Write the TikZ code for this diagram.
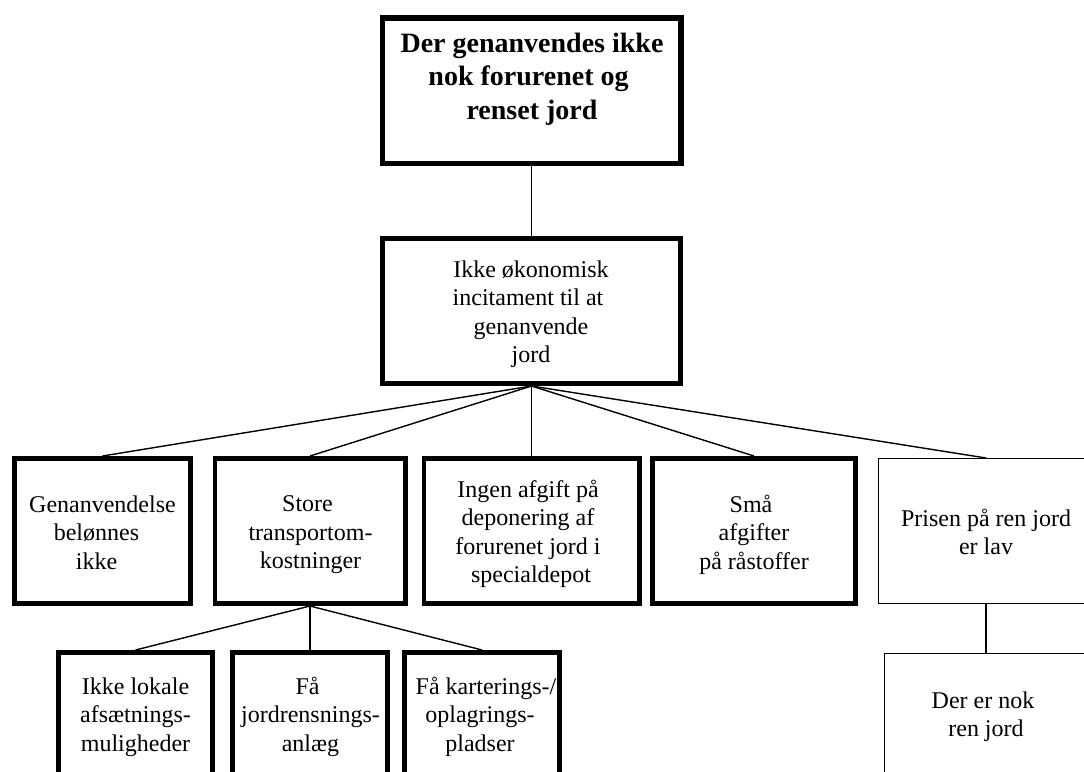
\documentclass[tikz,border=0pt]{standalone}
\usepackage{fontspec}
\setmainfont{Liberation Serif}
\begin{document}
\begin{tikzpicture}[x=1pt,y=-1pt,
  thickbox/.style={draw, line width=4.75pt, inner sep=0pt},
  thinbox/.style={draw, line width=1.3pt, inner sep=0pt},
  txt/.style={align=center, inner sep=0pt, font=\fontsize{24}{28.5}\selectfont},
  titletxt/.style={align=center, inner sep=0pt, font=\fontsize{28}{33.5}\selectfont\bfseries},
  link/.style={line width=1.4pt}]
\useasboundingbox (0,0) rectangle (1084,771);
\clip (0,0) rectangle (1084,771);

% problem statement
\node[thickbox, line width=5.5pt, minimum width=298.5pt, minimum height=145.5pt] (goal) at (531.5,90.5) {};
\node[titletxt] (goal-t) at (532,79.1) {Der genanvendes ikke\\nok forurenet og\hphantom{\ }\\renset jord};

% main cause
\node[thickbox, minimum width=298.25pt, minimum height=145.25pt] (cause) at (531.5,311) {};
\node[txt] (cause-t) at (531,314) {Ikke økonomisk\\incitament til at\hphantom{\ }\\genanvende\\jord};

% second level
\node[thickbox, minimum width=176.25pt, minimum height=145.25pt] (b1) at (102.5,531) {};
\node[txt] (b1-t) at (102.5,532.3) {Genanvendelse\\belønnes\hphantom{\ \ }\\ikke\hphantom{\ \ }};

\node[thickbox, minimum width=190.25pt, minimum height=145.25pt] (b2) at (310,531) {};
\node[txt] (b2-t) at (310.5,535) {Store\hphantom{\ }\\transportom-\\kostninger};

\node[thickbox, minimum width=215.25pt, minimum height=145.25pt] (b3) at (531.5,531) {};
\node[txt] (b3-t) at (531,533.9) {Ingen afgift på\hphantom{\ }\\deponering af\hphantom{\ }\\forurenet jord i\hphantom{\ }\\specialdepot};

\node[thickbox, minimum width=203.25pt, minimum height=145.25pt] (b4) at (754,531) {};
\node[txt] (b4-t) at (754,534.6) {Små\hphantom{\ }\\afgifter\\på råstoffer};

\node[thinbox, minimum width=214.7pt, minimum height=144.7pt] (b5) at (986,531) {};
\node[txt] (b5-t) at (986,532) {Prisen på ren jord\\er lav};

% third level
\node[thickbox, minimum width=154.25pt, minimum height=130.25pt] (b7) at (135.5,717.5) {};
\node[txt] (b7-t) at (135.5,716.9) {Ikke lokale\\afsætnings-\\muligheder};

\node[thickbox, minimum width=155.25pt, minimum height=130.25pt] (b8) at (310,717.5) {};
\node[txt] (b8-t) at (310.5,716.6) {Få\hphantom{\ }\\jordrensnings-\\anlæg};

\node[thickbox, minimum width=155.25pt, minimum height=130.25pt] (b9) at (482,717.5) {};
\node[txt] (b9-t) at (480,716.6) {\hphantom{\ \ }Få karterings-/\\oplagrings-\\pladser};

\node[thinbox, minimum width=202.7pt, minimum height=126.7pt] (b6) at (986,717) {};
\node[txt] (b6-t) at (986,716.7) {Der er nok\hphantom{\ }\\ren jord};

% connectors
\draw[link] (goal.south) -- (cause.north);
\foreach \n in {b1,b2,b3,b4,b5}
  \draw[link] (cause.south) -- (\n.north);
\foreach \n in {b7,b8,b9}
  \draw[link] (b2.south) -- (\n.north);
\draw[link] (b5.south) -- (b6.north);
\end{tikzpicture}
\end{document}
